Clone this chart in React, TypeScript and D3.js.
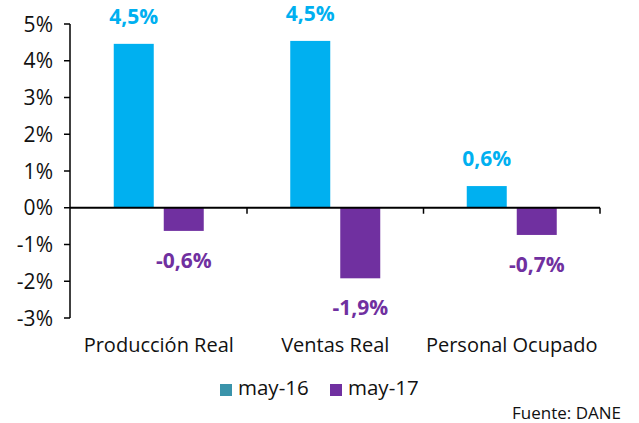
import React from "react";
import * as d3 from "d3";

const categories = ["Producción Real", "Ventas Real", "Personal Ocupado"];
const seriesNames = ["may-16", "may-17"];
const may16 = [4.46, 4.54, 0.59];
const may17 = [-0.63, -1.92, -0.74];
const yTicks = [-3, -2, -1, 0, 1, 2, 3, 4, 5];
const barColors = ["#00B0F0", "#7030A0"];
const legendColors = ["#3A93AA", "#7030A0"];
const source = "Fuente: DANE";

const W = 639;
const H = 423;
const FONT = "'Open Sans', 'Noto Sans', sans-serif";

export default function App() {
  const y = d3.scaleLinear().domain([-3, 5]).range([318, 24]);
  const x0 = d3.scaleBand<string>().domain(categories).range([70.5, 600]).padding(0);
  const groupW = 90;
  const x1 = d3.scaleBand<string>().domain(seriesNames).range([0, groupW]).paddingInner(0.2);
  const series = [may16, may17];
  const fmt = (v: number) => (v < 0 ? "-" : "") + Math.abs(v).toFixed(1).replace(".", ",") + "%";
  const y0 = y(0);

  return (
    <svg width={W} height={H} style={{ position: "absolute", left: 0, top: 0, background: "#fff" }} fontFamily={FONT}>
      {categories.map((c, i) => {
        const gx = (x0(c) as number) + (x0.bandwidth() - groupW) / 2;
        return series.map((s, k) => {
          const v = s[i];
          const bx = gx + (x1(seriesNames[k]) as number);
          const top = v >= 0 ? y(v) : y0;
          const h = Math.abs(y(v) - y0);
          const cx = bx + x1.bandwidth() / 2;
          const ly = v >= 0 ? y(v) - 20 : y(v) + 37;
          return (
            <g key={c + k}>
              <rect x={bx} y={top} width={x1.bandwidth()} height={h} fill={barColors[k]} />
              <text x={cx} y={ly} textAnchor="middle" fontSize={21} fontWeight="bold" fill={barColors[k]}>
                {fmt(v)}
              </text>
            </g>
          );
        });
      })}
      <line x1={70} x2={70} y1={y(5)} y2={y(-3)} stroke="#000" strokeWidth={1.5} />
      {yTicks.map((t) => (
        <g key={t}>
          <line x1={64} x2={70} y1={y(t)} y2={y(t)} stroke="#000" strokeWidth={1.5} />
          <text x={53} y={y(t)} dy="0.36em" textAnchor="end" fontSize={21} fill="#111">
            {t}%
          </text>
        </g>
      ))}
      <line x1={70} x2={600} y1={y0} y2={y0} stroke="#000" strokeWidth={2} />
      {categories.map((c, i) => {
        const xr = (x0(c) as number) + x0.bandwidth();
        return <line key={"t" + i} x1={xr} x2={xr} y1={y0} y2={y0 + 6} stroke="#000" strokeWidth={1.5} />;
      })}
      {categories.map((c) => (
        <text key={c} x={(x0(c) as number) + x0.bandwidth() / 2} y={352} textAnchor="middle" fontSize={20} fill="#111">
          {c}
        </text>
      ))}
      {seriesNames.map((n, k) => {
        const lx = 220 + k * 110;
        return (
          <g key={n}>
            <rect x={lx} y={384} width={12} height={12} fill={legendColors[k]} />
            <text x={lx + 18} y={395} fontSize={20.5} fill="#111">
              {n}
            </text>
          </g>
        );
      })}
      <text x={621} y={419} textAnchor="end" fontSize={17} fill="#111">
        {source}
      </text>
    </svg>
  );
}
